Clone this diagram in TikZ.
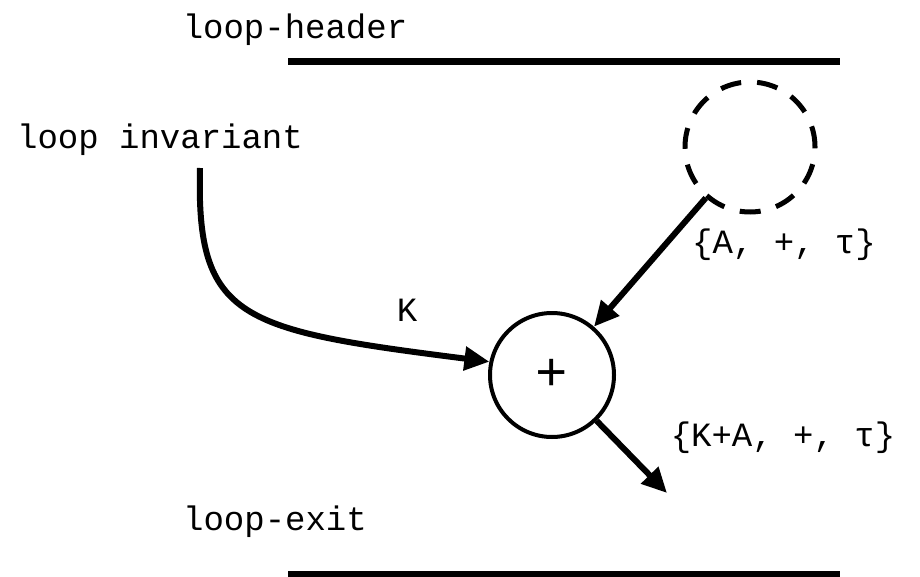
\documentclass[tikz,border=0pt]{standalone}
\usepackage{fontspec}
\setmonofont{Liberation Mono}
\usetikzlibrary{arrows.meta}
\tikzset{
label/.style={
font=\ttfamily\fontsize{34}{36}\selectfont,
inner sep=0pt
},
bar/.style={
line width=7pt
},
opnode/.style={
draw,
circle,
line width=4pt,
minimum size=124pt,
inner sep=0pt,
font=\ttfamily\fontsize{54}{56}\selectfont
},
ghost/.style={
draw,
circle,
line width=5pt,
dash pattern=on 21pt off 16pt,
minimum size=130pt,
inner sep=0pt
},
arrow/.style={
-{Triangle[length=25pt,width=23pt]},
line width=6pt
}
}
\begin{document}
\begin{tikzpicture}[x=1pt,y=-1pt]
\useasboundingbox (0,0) rectangle (920,577);
\node[label](hdr) at (295,30){loop-header};
\draw[bar](288,62)--(840,62);
\node[label](inv) at (160,140){loop invariant};
\node[ghost](src) at (750,147){};
\node[opnode](sum) at (552,375){+};
\node[label](k) at (407,310){K};
\node[label](lin) at (784,245){\{A, +, τ\}};
\node[label](lout) at (783,438){\{K+A, +, τ\}};
\node[label](ext) at (275,522){loop-exit};
\draw[bar](288,574)--(840,574);
\coordinate(from) at (200,168);
\coordinate(to) at (667,493);

\draw[arrow](from) .. controls (196,320) and (240,330) .. (sum.168);
\draw[arrow](src)--(sum);
\draw[arrow](sum)--(to);
\end{tikzpicture}
\end{document}
